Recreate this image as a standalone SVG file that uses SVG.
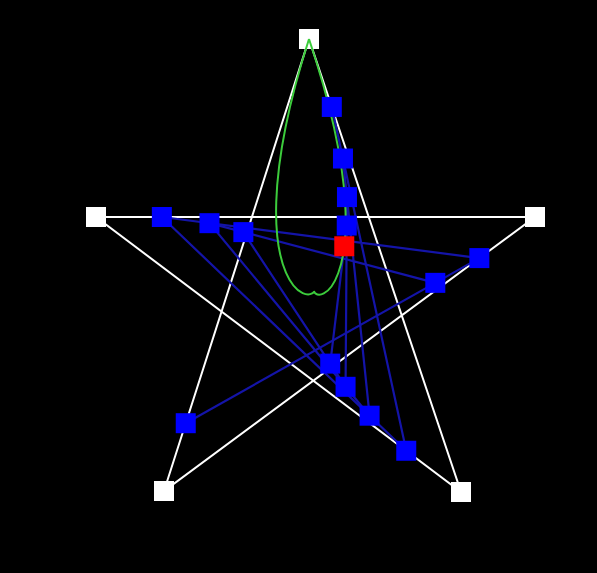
<svg xmlns="http://www.w3.org/2000/svg" width="597" height="573" viewBox="0 0 597 573">
<style>
.w{fill:none;stroke:#ffffff;stroke-width:2}
.b{fill:none;stroke:#1414a8;stroke-width:2.2;stroke-linejoin:round}
.g{fill:none;stroke:#3ccc3c;stroke-width:2}
.wn{fill:#ffffff}
.bn{fill:#0000ff}
.rn{fill:#ff0000}
</style>
<rect x="0" y="0" width="597" height="573" fill="#000000"/>
<g id="connectors">
<polyline class="w" points="309,39 164,491 535,217 96,217 461,492 309,39"/>
<polyline class="b" points="185.75,423.2 479.35,258.1 161.85,217 406.25,450.75 331.8,106.95"/>
<polyline class="b" points="435.31,282.85 209.48,223.17 369.59,415.69 342.97,158.52"/>
<polyline class="b" points="243.35,232.12 345.57,386.81 346.96,197.1"/>
<polyline class="b" points="330.24,363.61 346.75,225.56"/>
</g>
<g id="P0"><rect class="wn" x="299" y="29" width="20" height="20"/></g>
<g id="P1"><rect class="wn" x="154" y="481" width="20" height="20"/></g>
<g id="P2"><rect class="wn" x="525" y="207" width="20" height="20"/></g>
<g id="P3"><rect class="wn" x="86" y="207" width="20" height="20"/></g>
<g id="P4"><rect class="wn" x="451" y="482" width="20" height="20"/></g>
<g id="curve">
<path class="g" d="M309,39 C284.83,114.33 277.42,165.63 276.25,201.9 C275.09,238.17 280.25,259.4 285.96,272.6 C291.67,285.8 297.99,290.99 302.67,293.13 C307.35,295.28 310.47,294.39 312.12,293.48 C313.77,292.57 314.03,291.63 314.16,291.66 C314.3,291.69 314.39,292.69 315.72,293.66 C317.05,294.63 319.7,295.56 323.77,293.46 C327.84,291.36 333.43,286.2 338.28,273 C343.13,259.8 347.32,238.56 345.1,202.23 C342.88,165.9 334.33,114.5 309,39"/>
</g>
<g id="A0"><rect class="bn" x="175.75" y="413.2" width="20" height="20"/></g>
<g id="A1"><rect class="bn" x="469.35" y="248.1" width="20" height="20"/></g>
<g id="A2"><rect class="bn" x="151.85" y="207" width="20" height="20"/></g>
<g id="A3"><rect class="bn" x="396.25" y="440.75" width="20" height="20"/></g>
<g id="A4"><rect class="bn" x="321.8" y="96.95" width="20" height="20"/></g>
<g id="Q0"><rect class="bn" x="425.31" y="272.85" width="20" height="20"/></g>
<g id="Q1"><rect class="bn" x="199.48" y="213.17" width="20" height="20"/></g>
<g id="Q2"><rect class="bn" x="359.59" y="405.69" width="20" height="20"/></g>
<g id="Q3"><rect class="bn" x="332.97" y="148.52" width="20" height="20"/></g>
<g id="S0"><rect class="bn" x="233.35" y="222.12" width="20" height="20"/></g>
<g id="S1"><rect class="bn" x="335.57" y="376.81" width="20" height="20"/></g>
<g id="S2"><rect class="bn" x="336.96" y="187.1" width="20" height="20"/></g>
<g id="U0"><rect class="bn" x="320.24" y="353.61" width="20" height="20"/></g>
<g id="U1"><rect class="bn" x="336.75" y="215.56" width="20" height="20"/></g>
<g id="R"><rect class="rn" x="334.27" y="236.27" width="20" height="20"/></g>
</svg>
